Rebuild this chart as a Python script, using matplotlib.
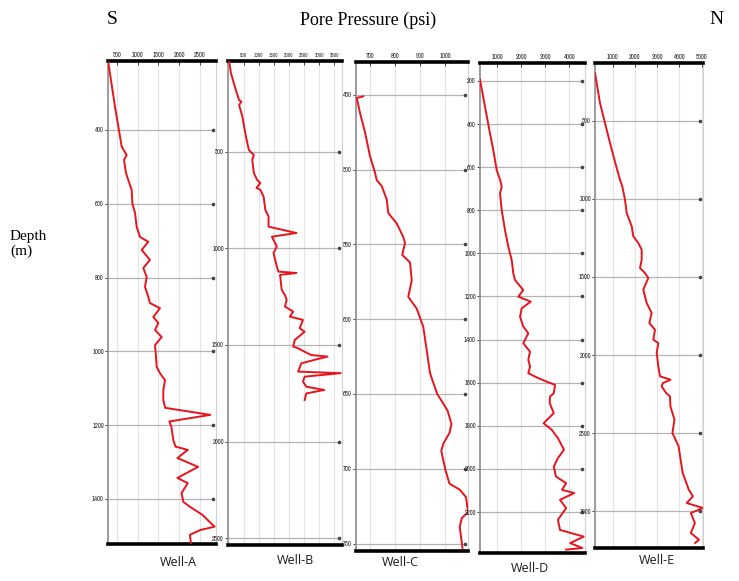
import matplotlib
matplotlib.use("Agg")
import matplotlib.pyplot as plt
from matplotlib import font_manager
import matplotlib.transforms as mtransforms

# ---------------- data (depth m, pressure psi) ----------------
wells = ["Well-A", "Well-B", "Well-C", "Well-D", "Well-E"]

depth_a = [217, 337, 445, 468, 481, 517, 563, 598, 625, 663, 690, 703, 725, 752, 774, 798, 825, 852,
           869, 883, 907, 923, 942, 961, 983, 1005, 1042, 1059, 1078, 1105, 1132, 1153, 1172, 1190,
           1204, 1240, 1258, 1267, 1289, 1313, 1343, 1357, 1384, 1408, 1421, 1443, 1475, 1484, 1497, 1519]
press_a = [290, 452, 613, 733, 669, 717, 854, 869, 934, 975, 1054, 1254, 1095, 1295, 1134, 1215, 1175, 1254,
           1295, 1536, 1375, 1495, 1416, 1577, 1416, 1433, 1457, 1536, 1657, 1616, 1616, 1662, 2748, 1761,
           1810, 1857, 1910, 2206, 1955, 2456, 1955, 2206, 2055, 2100, 2257, 2558, 2852, 2510, 2257, 2280]

depth_b = [32, 91, 179, 231, 240, 257, 317, 386, 438, 490, 516, 541, 609, 645, 661, 686, 697, 732, 800,
           835, 887, 920, 939, 990, 1024, 1094, 1120, 1127, 1137, 1215, 1241, 1267, 1301, 1327, 1353,
           1370, 1413, 1431, 1474, 1508, 1517, 1535, 1552, 1560, 1577, 1595, 1638, 1646, 1664, 1690,
           1716, 1733, 1751, 1785]
press_b = [21, 76, 239, 347, 425, 347, 457, 533, 598, 673, 836, 784, 836, 947, 1054, 924, 1054, 1162, 1217,
           1325, 1325, 2250, 1436, 1599, 1489, 1599, 1652, 2250, 1706, 1761, 1869, 1924, 1869, 2140, 2032,
           2466, 2358, 2521, 2195, 2140, 2303, 2521, 2738, 3281, 2847, 2413, 2303, 3717, 2521, 2466,
           2576, 3173, 2576, 2521]

depth_c = [451, 452, 462, 475, 491, 502, 507, 511, 520, 529, 536, 545, 549, 557, 562, 574, 585, 593, 605,
           621, 636, 641, 650, 661, 670, 676, 683, 688, 701, 710, 714, 719, 729, 733, 739, 753]
press_c = [673, 647, 660, 680, 700, 720, 727, 747, 767, 773, 807, 833, 840, 829, 860, 867, 853, 887, 913,
           927, 940, 950, 969, 1010, 1026, 1018, 994, 985, 1002, 1018, 1059, 1084, 1092, 1067, 1059, 1070]

depth_d = [194, 320, 444, 521, 614, 660, 691, 721, 799, 892, 969, 1031, 1093, 1124, 1170, 1201, 1224,
           1255, 1294, 1340, 1371, 1417, 1456, 1494, 1525, 1556, 1579, 1595, 1610, 1649, 1664, 1695,
           1741, 1788, 1819, 1857, 1911, 1950, 1989, 2035, 2066, 2097, 2112, 2143, 2182, 2236, 2283,
           2314, 2344, 2367, 2374]
press_d = [279, 487, 696, 833, 975, 1120, 1183, 1113, 1183, 1321, 1458, 1600, 1667, 1738, 2083, 1875, 2392,
           2017, 1946, 2083, 2292, 2083, 2363, 2292, 2363, 2292, 2708, 3058, 3404, 3354, 3196, 3184,
           3354, 2929, 3271, 3525, 3779, 3525, 3354, 3442, 3867, 3696, 4208, 3613, 3867, 3525, 3613,
           4600, 4038, 4546, 3867]

depth_e = [195, 387, 515, 643, 739, 803, 878, 920, 1006, 1091, 1176, 1240, 1283, 1326, 1390, 1443, 1475,
           1507, 1582, 1667, 1731, 1795, 1838, 1902, 1923, 1987, 2072, 2136, 2158, 2180, 2200, 2243,
           2264, 2328, 2414, 2499, 2584, 2670, 2755, 2862, 2904, 2947, 2979, 3011, 3075, 3139, 3182, 3203]
press_e = [205, 429, 654, 879, 1058, 1180, 1328, 1431, 1553, 1629, 1854, 1926, 2150, 2303, 2303, 2227, 2452,
           2600, 2375, 2527, 2752, 2645, 2901, 2825, 3050, 2977, 3050, 3126, 3600, 3250, 3200, 3400,
           3575, 3593, 3777, 3683, 3961, 4052, 4146, 4420, 4604, 4326, 5058, 4510, 4694, 4510, 4880, 4700]

xticks_a = [500, 1000, 1500, 2000, 2500]
xticks_b = [500, 1000, 1500, 2000, 2500, 3000, 3500]
xticks_c = [700, 800, 900, 1000]
xticks_d = [1000, 2000, 3000, 4000]
xticks_e = [1000, 2000, 3000, 4000, 5000]

yticks_a = [400, 600, 800, 1000, 1200, 1400]
yticks_b = [500, 1000, 1500, 2000, 2500]
yticks_c = [450, 500, 550, 600, 650, 700, 750]
yticks_d = [200, 400, 600, 800, 1000, 1200, 1400, 1600, 1800, 2000, 2200]
yticks_e = [500, 1000, 1500, 2000, 2500, 3000]

# ---------------- layout ----------------
W, H = 739, 581
avail = sorted({f.name for f in font_manager.fontManager.ttflist})
narrow = None
for nm in avail:
    if "Narrow" in nm or "Condensed" in nm:
        narrow = nm
        break
if narrow is None:
    narrow = "Liberation Sans" if "Liberation Sans" in avail else "DejaVu Sans"
serif = "Liberation Serif" if "Liberation Serif" in avail else "DejaVu Serif"
sans = "Open Sans" if "Open Sans" in avail else "DejaVu Sans"

fig = plt.figure(figsize=(W / 100, H / 100), dpi=100)

def rect(x0, x1, y0, y1):
    return [x0 / W, 1 - y1 / H, (x1 - x0) / W, (y1 - y0) / H]

panels = [
    dict(r=rect(108, 216, 61, 544), d=depth_a, p=press_a, xt=xticks_a, yt=yticks_a,
         xl=(283, 2886), yl=(1522, 213), lab=(178, 562), fs=4.6),
    dict(r=rect(228, 342, 61, 545), d=depth_b, p=press_b, xt=xticks_b, yt=yticks_b,
         xl=(-20, 3760), yl=(2536, 29), lab=(295, 560), fs=3.7),
    dict(r=rect(356, 468, 62, 551), d=depth_c, p=press_c, xt=xticks_c, yt=yticks_c,
         xl=(644, 1092), yl=(755, 428), lab=(400, 562), fs=4.6),
    dict(r=rect(480, 585, 63, 553), d=depth_d, p=press_d, xt=xticks_d, yt=yticks_d,
         xl=(279, 4654), yl=(2390, 117), lab=(530, 568), fs=4.6),
    dict(r=rect(595, 703, 63, 548), d=depth_e, p=press_e, xt=xticks_e, yt=yticks_e,
         xl=(205, 5058), yl=(3235, 131), lab=(657, 560), fs=4.6),
]

for i, pn in enumerate(panels):
    ax = fig.add_axes(pn["r"])
    ax.set_xlim(*pn["xl"])
    ax.set_ylim(*pn["yl"])
    for x in pn["xt"]:
        ax.axvline(x, color="#e4e4e4", lw=0.8, zorder=0)
    for y in pn["yt"]:
        ax.axhline(y, xmin=0, xmax=0.97, color="#b4b4b4", lw=0.9, zorder=1)
    trans = mtransforms.blended_transform_factory(ax.transAxes, ax.transData)
    ax.plot([0.97] * len(pn["yt"]), pn["yt"], "o", ms=1.6, color="#444444", transform=trans,
            clip_on=False, zorder=2)
    ax.plot(pn["p"], pn["d"], color="#e8141c", lw=1.4, zorder=3, clip_on=True)

    ax.xaxis.tick_top()
    ax.set_xticks(pn["xt"])
    ax.set_xticklabels([str(v) for v in pn["xt"]], fontsize=pn["fs"], family=narrow)
    ax.tick_params(axis="x", direction="in", length=3, width=0.6, pad=2, colors="#222222")
    ax.set_yticks(pn["yt"])
    ax.set_yticklabels([str(v) for v in pn["yt"]], fontsize=4.6, family=narrow)
    ax.tick_params(axis="y", direction="out", length=2, width=0.6, pad=1, colors="#222222")

    ax.spines["top"].set_linewidth(2.6)
    ax.spines["top"].set_color("black")
    ax.spines["bottom"].set_linewidth(2.6)
    ax.spines["bottom"].set_color("black")
    ax.spines["left"].set_linewidth(1.2)
    ax.spines["left"].set_color("#8c8c8c")
    ax.spines["right"].set_linewidth(0.8)
    ax.spines["right"].set_color("#d0d0d0")

    lx, ly = pn["lab"]
    fig.text(lx / W, 1 - ly / H, wells[i], ha="center", va="center", fontsize=9, family=sans,
             color="#1a1a1a")

fig.text(112 / W, 1 - 20 / H, "S", ha="center", va="center", fontsize=14, family=serif)
fig.text(368 / W, 1 - 20 / H, "Pore Pressure (psi)", ha="center", va="center", fontsize=13, family=serif)
fig.text(716 / W, 1 - 20 / H, "N", ha="center", va="center", fontsize=14, family=serif)
fig.text(10 / W, 1 - 244 / H, "Depth\n(m)", ha="left", va="center", fontsize=11, family=serif,
         linespacing=1.2)

fig.savefig("out.png", dpi=100)
